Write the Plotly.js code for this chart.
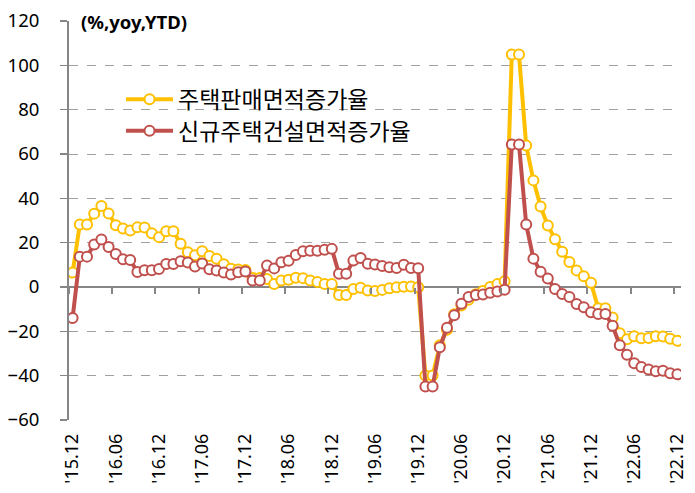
<!DOCTYPE html>
<html>
<head>
<meta charset="utf-8">
<script src="https://cdn.plot.ly/plotly-3.0.1.min.js"></script>
<style>html,body{margin:0;padding:0;background:#fff;}#chart{width:695px;height:493px;}</style>
</head>
<body>
<div id="chart"></div>
<script>
// Monthly YTD yoy (%), '15.12 .. '22.12 (Jan repeats Jan-Feb cumulative value)
const salesArea = [
  6.5,
  28.2, 28.2, 33.1, 36.5, 33.2, 27.9, 26.4, 25.5, 26.9, 26.8, 24.3, 22.5,
  25.1, 25.1, 19.5, 15.7, 14.3, 16.1, 14.0, 12.7, 10.3, 8.2, 7.9, 7.7,
  4.1, 4.1, 3.6, 1.3, 2.9, 3.3, 4.2, 4.0, 2.9, 2.2, 1.4, 1.3,
  -3.6, -3.6, -0.9, -0.3, -1.6, -1.8, -1.3, -0.6, -0.1, 0.1, 0.2, -0.1,
  -39.9, -39.9, -26.3, -19.3, -12.3, -8.4, -5.8, -3.3, -1.8, 0.0, 1.3, 2.6,
  104.9, 104.9, 63.8, 48.1, 36.3, 27.7, 21.5, 15.9, 11.3, 7.5, 4.8, 1.9,
  -9.6, -9.6, -13.8, -20.9, -23.6, -22.2, -23.1, -23.0, -22.2, -22.3, -23.3, -24.3
];
const newStarts = [
  -14.0,
  13.7, 13.7, 19.2, 21.4, 18.0, 14.9, 12.5, 12.2, 6.8, 7.6, 7.6, 8.1,
  10.4, 10.4, 11.6, 11.1, 9.2, 10.6, 8.0, 7.4, 6.5, 5.6, 6.6, 7.0,
  2.9, 2.9, 9.7, 8.4, 11.2, 11.8, 14.4, 16.1, 16.4, 16.3, 16.8, 17.2,
  6.0, 6.0, 11.9, 13.1, 10.5, 10.1, 9.5, 8.9, 8.6, 10.0, 8.6, 8.5,
  -44.9, -44.9, -27.2, -18.4, -12.8, -7.6, -4.5, -3.6, -3.4, -2.6, -2.0, -1.2,
  64.3, 64.3, 28.2, 12.8, 6.9, 3.8, -0.9, -3.2, -4.5, -7.7, -9.1, -11.4,
  -12.2, -12.2, -17.5, -26.3, -30.6, -34.4, -36.1, -37.2, -38.0, -37.8, -38.9, -39.4
];
const tickLabels = ["'15.12","'16.06","'16.12","'17.06","'17.12","'18.06","'18.12",
  "'19.06","'19.12","'20.06","'20.12","'21.06","'21.12","'22.06","'22.12"];
const seriesNames = ["주택판매면적증가율", "신규주택건설면적증가율"];
const unitLabel = "(%,yoy,YTD)";

const n = salesArea.length;
const xIdx = salesArea.map((_, i) => i);
const labelStep = 6;
const labelVals = tickLabels.map((_, k) => k * labelStep);
const tickMarkVals = tickLabels.map((_, k) => k * labelStep - 0.5);

const YELLOW = '#FFC000', RED = '#C0504D', AXIS = '#868686';
const FONT = 'Noto Sans, DejaVu Sans, sans-serif';
const mk = c => ({symbol: 'circle', size: 10, color: '#ffffff', line: {color: c, width: 2}});

const traces = [
  {x: xIdx, y: salesArea, name: seriesNames[0], type: 'scatter', mode: 'lines+markers',
   line: {color: YELLOW, width: 4}, marker: mk(YELLOW), legend: 'legend'},
  {x: xIdx, y: newStarts, name: seriesNames[1], type: 'scatter', mode: 'lines+markers',
   line: {color: RED, width: 4}, marker: mk(RED), legend: 'legend2'},
  {x: [], y: [], xaxis: 'x2', showlegend: false, hoverinfo: 'skip', type: 'scatter'}
];

const legendBase = (y) => ({
  x: 0.085, y: y, xanchor: 'left', yanchor: 'middle',
  bgcolor: 'rgba(0,0,0,0)', borderwidth: 0,
  font: {family: 'Noto Sans CJK KR, sans-serif', size: 23, color: '#000'},
  itemwidth: 47
});

const range = [-0.5, n - 0.5];
const layout = {
  width: 695, height: 493,
  margin: {l: 69, r: 14, t: 21, b: 73, pad: 0},
  paper_bgcolor: '#ffffff', plot_bgcolor: '#ffffff',
  font: {family: FONT, size: 18, color: '#000'},
  showlegend: true,
  legend: legendBase(0.804),
  legend2: legendBase(0.725),
  xaxis: {
    range: range, tickmode: 'array', tickvals: labelVals, ticktext: tickLabels,
    tickangle: -90, ticks: '', showgrid: false, zeroline: false, showline: false,
    ticklabelstandoff: 9,
    tickfont: {family: FONT, size: 18, color: '#000'}
  },
  xaxis2: {
    overlaying: 'x', anchor: 'free', position: 1/3, side: 'bottom',
    range: range, tickmode: 'array', tickvals: tickMarkVals,
    ticks: 'outside', ticklen: 6, tickwidth: 2, tickcolor: AXIS,
    showticklabels: false, showgrid: false, zeroline: false, showline: false
  },
  yaxis: {
    range: [-60, 120], dtick: 20, tick0: 0,
    showgrid: true, gridcolor: '#a0a0a0', griddash: 'dash', gridwidth: 1,
    zeroline: true, zerolinecolor: AXIS, zerolinewidth: 2.5,
    showline: true, linecolor: AXIS, linewidth: 2,
    ticks: 'outside', ticklen: 7, tickwidth: 1.5, tickcolor: AXIS,
    ticklabelstandoff: 17,
    tickfont: {family: FONT, size: 18.5, color: '#000'}
  },
  annotations: [{
    text: '<b>' + unitLabel + '</b>', xref: 'paper', yref: 'paper',
    x: 0.016, y: 1, xanchor: 'left', yanchor: 'middle', showarrow: false,
    bgcolor: '#ffffff', font: {family: FONT, size: 18.5, color: '#000'}
  }]
};

Plotly.newPlot('chart', traces, layout, {staticPlot: true, displayModeBar: false});
</script>
</body>
</html>
